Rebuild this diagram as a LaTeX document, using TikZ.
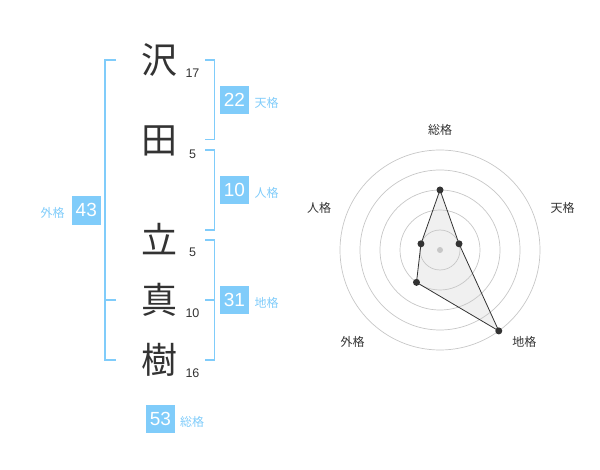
\documentclass[tikz,border=0pt]{standalone}
\usepackage{fontspec}
\setmainfont{Liberation Sans}
\newfontfamily\jpfont{Noto Sans CJK JP}
\usepackage{tikz}
\usetikzlibrary{positioning}
\definecolor{kakublue}{RGB}{128,204,250}
\definecolor{inkgray}{RGB}{51,51,51}

\begin{document}
\begin{tikzpicture}[x=1pt, y=-1pt]
\tikzstyle{kanji}=[text=inkgray, inner sep=0pt, font=\jpfont\fontsize{36}{36}\selectfont]
\tikzstyle{strk}=[text=inkgray, inner sep=0pt, font=\fontsize{12.5}{12.5}\selectfont]
\tikzstyle{kbox}=[fill=kakublue, text=white, minimum size=28.5pt, inner sep=0pt, font=\fontsize{19}{19}\selectfont]
\tikzstyle{klbl}=[text=kakublue, inner sep=0pt, font=\jpfont\fontsize{12}{12}\selectfont]
\tikzstyle{brk}=[draw=kakublue, line width=1.8pt]
\tikzstyle{ring}=[draw=black!22, line width=0.7pt]
\tikzstyle{rlbl}=[text=inkgray, inner sep=0pt, font=\jpfont\fontsize{12}{12}\selectfont]
\tikzstyle{dot}=[circle, fill=inkgray, inner sep=0pt, minimum size=7pt]
\useasboundingbox (0,0) rectangle (600,470);
% name and stroke counts
\foreach \n/\c/\y/\s in {c1/沢/60/17, c2/田/141/5, c3/立/239/5, c4/真/300/10, c5/樹/360/16}{
\node[kanji] (\n) at (159,\y) {\c};
\node[strk] (s\n) at (192.5,\y+13) {\s};}
% brackets
\coordinate (gT) at (116,60); \coordinate (gM) at (116,300); \coordinate (gB) at (116,360);
\coordinate (tT) at (205,60); \coordinate (tB) at (205,139.5);
\coordinate (jT) at (205,150); \coordinate (jB) at (205,230);
\coordinate (cT) at (205,240); \coordinate (cM) at (205,300); \coordinate (cB) at (205,360);
\draw[brk] (gT) -- ++(-11,0) |- (gB); \draw[brk] (gM) -- ++(-11,0);
\draw[brk] (tT) -- ++(9.5,0) |- (tB);
\draw[brk] (jT) -- ++(9.5,0) |- (jB);
\draw[brk] (cT) -- ++(9.5,0) |- (cB); \draw[brk] (cM) -- ++(9.5,0);
% totals
\node[kbox] (ten) at (234.5,100) {22};
\node[kbox] (jin) at (234.5,190) {10};
\node[kbox] (chi) at (234.5,300) {31};
\node[kbox] (gai) at (86.3,210.3) {43};
\node[kbox] (sou) at (160.5,419) {53};
\node[klbl, right=5.5pt of ten, yshift=-3pt] (lten) {天格};
\node[klbl, right=5.5pt of jin, yshift=-3pt] (ljin) {人格};
\node[klbl, right=5.5pt of chi, yshift=-3pt] (lchi) {地格};
\node[klbl, left=7pt of gai, yshift=-3pt] (lgai) {外格};
\node[klbl, right=5pt of sou, yshift=-3pt] (lsou) {総格};
% radar
\begin{scope}[shift={(440,250)}, yscale=-1]
\foreach \n/\a/\r in {sou/90/60, ten/18/20, chi/-54/100, gai/234/40, jin/162/20}
  \coordinate (v\n) at (\a:\r);
\fill[black!6] (vsou) -- (vten) -- (vchi) -- (vgai) -- (vjin) -- cycle;
\foreach \r in {20,40,...,100}
  \draw[ring] (0,0) circle[radius=\r pt];
\draw[inkgray, line width=0.8pt] (vsou) -- (vten) -- (vchi) -- (vgai) -- (vjin) -- cycle;
\foreach \n in {sou,ten,chi,gai,jin}
  \node[dot] (p\n) at (v\n) {};
\node[circle, fill=black!22, inner sep=0pt, minimum size=6pt] (o) at (0,0) {};
\end{scope}
\node[rlbl] (rsou) at (440,130) {総格};
\node[rlbl] (rten) at (562.7,208.3) {天格};
\node[rlbl] (rjin) at (319,208.3) {人格};
\node[rlbl] (rgai) at (352.7,341.7) {外格};
\node[rlbl] (rchi) at (524.3,341.7) {地格};
\end{tikzpicture}
\end{document}
